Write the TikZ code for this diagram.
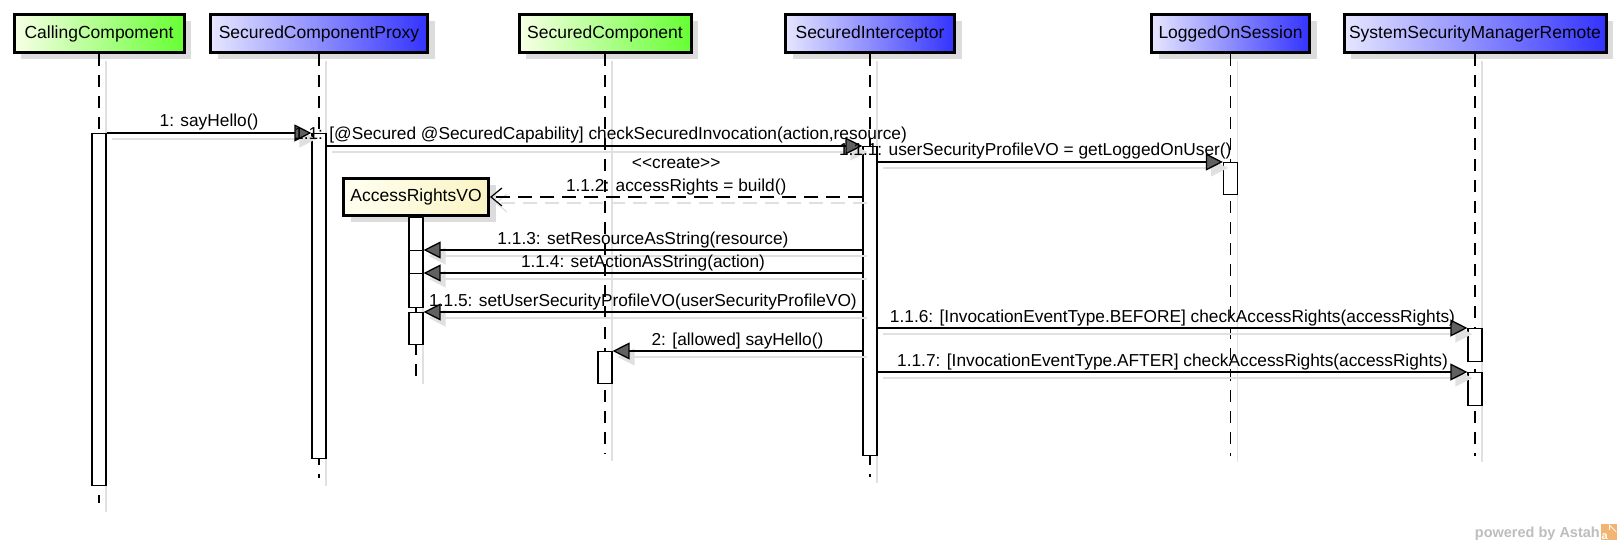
\documentclass[tikz,border=0pt]{standalone}
\usepackage{fontspec}
\setmainfont{Liberation Sans}
\usetikzlibrary{arrows.meta,shadows,calc}
\definecolor{boxshade}{HTML}{DCDCDC}
\definecolor{lineshade}{HTML}{E0E0E0}
\definecolor{greenL}{HTML}{F8FFE6}
\definecolor{greenR}{HTML}{66FF33}
\definecolor{blueL}{HTML}{E6E6FF}
\definecolor{blueR}{HTML}{3333FF}
\definecolor{voL}{HTML}{FFFFF0}
\definecolor{voR}{HTML}{FAF4C4}
\definecolor{headgray}{HTML}{606060}
\definecolor{astahgray}{HTML}{BDBDBD}
\definecolor{astahorange}{HTML}{F2B470}

\begin{document}
\begin{tikzpicture}[x=1pt,y=-1pt,
  hdrfont/.style={font=\fontsize{17.5pt}{20pt}\selectfont},
  lifebox/.style={hdrfont, draw=black, line width=3pt, inner sep=0pt,
    drop shadow={shadow xshift=7pt, shadow yshift=-7pt, fill=boxshade, opacity=1}},
  greenbox/.style={lifebox, left color=greenL, right color=greenR},
  bluebox/.style={lifebox, left color=blueL, right color=blueR},
  vobox/.style={lifebox, left color=voL, right color=voR},
  lifeline/.style={draw=black, line width=1.2pt, dash pattern=on 12pt off 9pt},
  lifeshadow/.style={draw=lineshade, line width=1.2pt},
  act/.style={draw=black, fill=white, line width=1.2pt, minimum width=14pt,
    inner sep=0pt, anchor=north},
  msg/.style={draw=black, line width=1.3pt,
    -{Triangle[length=17pt,width=17pt,fill=headgray]}},
  msgshadow/.style={draw=lineshade, line width=1.3pt,
    transform canvas={shift={(5pt,-6pt)}},
    -{Triangle[length=17pt,width=17pt,fill=lineshade]}},
  ret/.style={draw=black, line width=1.3pt, dash pattern=on 14pt off 8pt,
    -{Straight Barb[length=11pt,width=18pt,line width=1.2pt]}},
  retshadow/.style={draw=lineshade, line width=1.3pt, dash pattern=on 14pt off 8pt,
    transform canvas={shift={(5pt,-6pt)}},
    -{Straight Barb[length=11pt,width=18pt,line width=1.2pt]}},
  lbl/.style={font=\fontsize{17.3pt}{20pt}\selectfont, midway, anchor=base,
    inner sep=0pt, yshift=6pt},
]
\useasboundingbox (0,0) rectangle (1621,545);

% lifeline heads
\node[greenbox, minimum width=170pt, minimum height=38pt] (cc)   at (99,33.5)   {CallingCompoment};
\node[bluebox,  minimum width=217pt, minimum height=38pt] (scp)  at (319,33.5)  {SecuredComponentProxy};
\node[greenbox, minimum width=172pt, minimum height=38pt] (sc)   at (605,33.5)  {SecuredComponent};
\node[bluebox,  minimum width=169pt, minimum height=38pt] (si)   at (870,33.5)  {SecuredInterceptor};
\node[bluebox,  minimum width=158pt, minimum height=38pt] (los)  at (1230.5,33.5) {LoggedOnSession};
\node[bluebox,  minimum width=262pt, minimum height=38pt] (ssmr) at (1475,33.5) {SystemSecurityManagerRemote};
\node[vobox,    minimum width=145pt, minimum height=37pt] (arvo) at (416,197)   {AccessRightsVO};

% lifeline shadows
\draw[lifeshadow] ($(cc.south)+(7,7)$)   -- ++(0,451);
\draw[lifeshadow] ($(scp.south)+(7,7)$)  -- ++(0,425);
\draw[lifeshadow] ($(sc.south)+(7,7)$)   -- ++(0,400);
\draw[lifeshadow] ($(si.south)+(7,7)$)   -- ++(0,422);
\draw[lifeshadow] ($(los.south)+(7,7)$)  -- ++(0,401);
\draw[lifeshadow] ($(ssmr.south)+(7,7)$) -- ++(0,401);
\draw[lifeshadow] ($(arvo.south)+(7,7)$) -- ++(0,160);

% lifelines
\draw[lifeline] (cc.south)   -- ++(0,449);
\draw[lifeline] (scp.south)  -- ++(0,424);
\draw[lifeline] (sc.south)   -- ++(0,400);
\draw[lifeline] (si.south)   -- ++(0,423);
\draw[lifeline] (los.south)  -- ++(0,402);
\draw[lifeline] (ssmr.south) -- ++(0,402);
\draw[lifeline] (arvo.south) -- ++(0,161);

% activations
\node[act, minimum height=352pt] (ccA)   at (99,133)    {};
\node[act, minimum height=325pt] (scpA)  at (319,133)   {};
\node[act, minimum height=309pt] (siA)   at (870,146)   {};
\node[act, minimum height=32pt]  (losA)  at (1230.5,162) {};
\node[act, minimum height=33pt]  (arvoA) at (416,217)   {};
\node[act, minimum height=23pt]  (arvoB) at (416,250)   {};
\node[act, minimum height=34pt]  (arvoC) at (416,273)   {};
\node[act, minimum height=32pt]  (arvoD) at (416,312)   {};
\node[act, minimum height=32pt]  (scA)   at (605,351)   {};
\node[act, minimum height=33pt]  (ssmrA) at (1475,328)  {};
\node[act, minimum height=33pt]  (ssmrB) at (1475,372)  {};

% message shadows
\draw[msgshadow] (ccA.north east) -- (scpA.north west);
\draw[msgshadow] (scpA.east |- siA.north) -- (siA.north west);
\draw[msgshadow] (siA.east |- losA.north) -- (losA.north west);
\draw[retshadow] (siA.west |- arvo.east) -- (arvo.east);
\draw[msgshadow] (siA.west |- arvoB.north) -- (arvoB.north east);
\draw[msgshadow] (siA.west |- arvoC.north) -- (arvoC.north east);
\draw[msgshadow] (siA.west |- arvoD.north) -- (arvoD.north east);
\draw[msgshadow] (siA.east |- ssmrA.north) -- (ssmrA.north west);
\draw[msgshadow] (siA.west |- scA.north) -- (scA.north east);
\draw[msgshadow] (siA.east |- ssmrB.north) -- (ssmrB.north west);

% messages
\draw[msg] (ccA.north east) -- node[lbl] {1: sayHello()} (scpA.north west);
\draw[msg] (scpA.east |- siA.north) -- node[lbl, xshift=6pt]
  {1.1: [@Secured @SecuredCapability] checkSecuredInvocation(action,resource)} (siA.north west);
\draw[msg] (siA.east |- losA.north) -- node[lbl, xshift=-15pt]
  {1.1.1: userSecurityProfileVO = getLoggedOnUser()} (losA.north west);
\draw[ret] (siA.west |- arvo.east) --
  node[lbl, yshift=-1pt] {1.1.2: accessRights = build()}
  node[lbl, yshift=22pt] {{<}{<}create{>}{>}} (arvo.east);
\draw[msg] (siA.west |- arvoB.north) -- node[lbl] {1.1.3: setResourceAsString(resource)} (arvoB.north east);
\draw[msg] (siA.west |- arvoC.north) -- node[lbl] {1.1.4: setActionAsString(action)} (arvoC.north east);
\draw[msg] (siA.west |- arvoD.north) -- node[lbl] {1.1.5: setUserSecurityProfileVO(userSecurityProfileVO)} (arvoD.north east);
\draw[msg] (siA.east |- ssmrA.north) -- node[lbl]
  {1.1.6: [InvocationEventType.BEFORE] checkAccessRights(accessRights)} (ssmrA.north west);
\draw[msg] (siA.west |- scA.north) -- node[lbl] {2: [allowed] sayHello()} (scA.north east);
\draw[msg] (siA.east |- ssmrB.north) -- node[lbl]
  {1.1.7: [InvocationEventType.AFTER] checkAccessRights(accessRights)} (ssmrB.north west);

% footer mark
\node[anchor=base east, inner sep=0pt, text=astahgray,
  font=\bfseries\fontsize{14.5pt}{16pt}\selectfont] (wm) at (1600,537) {powered by Astah};
\node[anchor=south west, fill=astahorange, minimum size=16pt, inner sep=0pt] (logo) at (1601,540) {};
\node[anchor=south west, inner sep=0.5pt, text=white,
  font=\bfseries\fontsize{11pt}{11pt}\selectfont] at (logo.south west) {a};
\draw[white, line width=0.8pt] ($(logo.north west)+(8,1)$) -- ($(logo.south east)+(-1,-8)$);
\draw[white, line width=0.8pt] ($(logo.north west)+(8,1)$) -- ++(0,5);
\end{tikzpicture}
\end{document}
